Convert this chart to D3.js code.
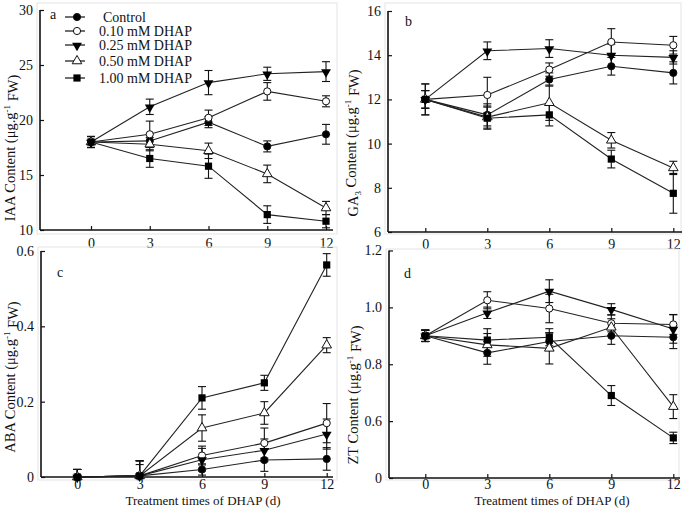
<!DOCTYPE html>
<html><head><meta charset="utf-8">
<script src="https://cdn.jsdelivr.net/npm/d3@7"></script>
<style>
body{margin:0;background:#fff;}
svg{display:block;font-family:"Liberation Serif","Times New Roman",serif;}
</style></head>
<body><svg id="chart" width="683" height="510"></svg>
<script>
const days = [0, 3, 6, 9, 12];
const seriesNames = ["Control", "0.10 mM DHAP", "0.25 mM DHAP", "0.50 mM DHAP", "1.00 mM DHAP"];
const markerTypes = ["circleFilled", "circleOpen", "triangleDownFilled", "triangleOpen", "squareFilled"];

// Panel a: IAA
const iaaValues = [
  [18.0, 18.1, 19.8, 17.6, 18.7],
  [18.0, 18.7, 20.2, 22.6, 21.7],
  [18.0, 21.2, 23.4, 24.2, 24.4],
  [18.0, 17.8, 17.2, 15.1, 12.0],
  [18.0, 16.5, 15.8, 11.4, 10.8]
];
const iaaErrors = [
  [0.5, 0.6, 0.5, 0.5, 0.9],
  [0.5, 1.2, 0.7, 0.8, 0.5],
  [0.5, 0.7, 1.1, 0.6, 0.9],
  [0.5, 0.6, 0.7, 0.8, 0.6],
  [0.5, 0.8, 1.1, 0.8, 0.6]
];
const iaaTicks = [10, 15, 20, 25, 30];

// Panel b: GA3
const gaValues = [
  [12.0, 11.3, 12.9, 13.5, 13.2],
  [12.0, 12.2, 13.35, 14.6, 14.45],
  [12.0, 14.2, 14.3, 14.0, 13.9],
  [12.0, 11.2, 11.85, 10.15, 8.9],
  [12.0, 11.15, 11.3, 9.3, 7.75]
];
const gaErrors = [
  [0.4, 0.5, 0.3, 0.4, 0.5],
  [0.7, 0.8, 0.3, 0.6, 0.4],
  [0.4, 0.4, 0.4, 0.5, 0.3],
  [0.4, 0.5, 0.8, 0.35, 0.3],
  [0.7, 0.5, 0.5, 0.4, 0.9]
];
const gaTicks = [6, 8, 10, 12, 14, 16];

// Panel c: ABA
const abaValues = [
  [0, 0.003, 0.02, 0.045, 0.048],
  [0, 0.003, 0.057, 0.09, 0.143],
  [0, 0.003, 0.046, 0.071, 0.114],
  [0, 0.003, 0.13, 0.17, 0.35],
  [0, 0.003, 0.21, 0.25, 0.563]
];
const abaErrors = [
  [0.02, 0.04, 0.015, 0.03, 0.03],
  [0.02, 0.04, 0.025, 0.04, 0.052],
  [0.02, 0.03, 0.03, 0.03, 0.04],
  [0.02, 0.04, 0.035, 0.03, 0.02],
  [0.02, 0.04, 0.03, 0.02, 0.03]
];
const abaTicks = [0, 0.2, 0.4, 0.6];
const abaTickLabels = ["0", "0.2", "0.4", "0.6"];

// Panel d: ZT (axis break: bottom tick "0" sits where 0.4 would be)
const ztValues = [
  [0.9, 0.84, 0.88, 0.9, 0.895],
  [0.9, 1.025, 0.996, 0.944, 0.94],
  [0.9, 0.981, 1.057, 0.993, 0.924],
  [0.9, 0.868, 0.856, 0.93, 0.651],
  [0.9, 0.885, 0.895, 0.69, 0.541]
];
const ztErrors = [
  [0.02, 0.04, 0.03, 0.03, 0.04],
  [0.02, 0.03, 0.05, 0.03, 0.035],
  [0.02, 0.02, 0.04, 0.02, 0.05],
  [0.02, 0.04, 0.055, 0.03, 0.042],
  [0.02, 0.04, 0.03, 0.035, 0.02]
];
const ztTicks = [0.4, 0.6, 0.8, 1.0, 1.2];
const ztTickLabels = ["0", "0.6", "0.8", "1.0", "1.2"];

const xTitle = "Treatment times of DHAP (d)";

const svg = d3.select("#chart");

const panels = [
  {letter:"a", values:iaaValues, errors:iaaErrors, yTicks:iaaTicks, yLabels:iaaTicks.map(String),
   yDomain:[10,30], yRange:[230,10], xAxisX:[40,333], x0:91, x12:326,
   box:[37,3,337,234], title:["IAA Content (μg.g","-1"," FW)"], titleX:10, titleY:148, letterPos:[50,19],
   xLabelY:248, showXTitle:false, legend:true},
  {letter:"b", values:gaValues, errors:gaErrors, yTicks:gaTicks, yLabels:gaTicks.map(String),
   yDomain:[6,16], yRange:[232,11], x0:425.3, x12:673.3, xAxisX:[388,682],
   box:[385,3,681,234], title:["GA","3"," Content (μg.g","-1"," FW)"], titleX:353, titleY:143, letterPos:[405,26],
   xLabelY:249, showXTitle:false, legend:false},
  {letter:"c", values:abaValues, errors:abaErrors, yTicks:abaTicks, yLabels:abaTickLabels,
   yDomain:[0,0.6], yRange:[477,251], x0:77.3, x12:326.7, xAxisX:[41,333],
   box:[38,247,337,480], title:["ABA Content (μg.g","-1"," FW)"], titleX:10, titleY:377, letterPos:[57,277],
   xLabelY:489, showXTitle:true, titleCenter:203, legend:false},
  {letter:"d", values:ztValues, errors:ztErrors, yTicks:ztTicks, yLabels:ztTickLabels,
   yDomain:[0.4,1.2], yRange:[478,250.5], x0:425.3, x12:673.3, xAxisX:[389,680],
   box:[386,249,679,480], title:["ZT Content (μg.g","-1"," FW)"], titleX:353, titleY:395, letterPos:[404,278],
   xLabelY:489, showXTitle:true, titleCenter:552, legend:false}
];

function drawMarker(g, type, x, y) {
  const s = 3.6;
  const stroke = "#111";
  if (type === "circleFilled" || type === "circleOpen") {
    g.append("circle").attr("cx", x).attr("cy", y).attr("r", s)
      .attr("fill", type === "circleFilled" ? "#000" : "#fff").attr("stroke", stroke).attr("stroke-width", 1);
  } else if (type === "squareFilled") {
    g.append("rect").attr("x", x - s).attr("y", y - s).attr("width", 2*s).attr("height", 2*s)
      .attr("fill", "#000");
  } else if (type === "triangleDownFilled") {
    const p = d3.symbol().type(d3.symbolTriangle).size(42)();
    g.append("path").attr("d", p).attr("transform", `translate(${x},${y + 0.5}) rotate(180)`)
      .attr("fill", "#000");
  } else if (type === "triangleOpen") {
    const p = d3.symbol().type(d3.symbolTriangle).size(40)();
    g.append("path").attr("d", p).attr("transform", `translate(${x},${y})`)
      .attr("fill", "#fff").attr("stroke", stroke).attr("stroke-width", 1);
  }
}

panels.forEach(P => {
  const g = svg.append("g");
  const x = d3.scaleLinear().domain([0, 12]).range([P.x0, P.x12]);
  const y = d3.scaleLinear().domain(P.yDomain).range(P.yRange);

  // faint frame
  g.append("rect").attr("x", P.box[0]).attr("y", P.box[1])
    .attr("width", P.box[2] - P.box[0]).attr("height", P.box[3] - P.box[1])
    .attr("fill", "none").attr("stroke", "#e4e4e4").attr("stroke-width", 1);

  // y axis
  const yAxisX = P.xAxisX[0];
  const yAxis = d3.axisLeft(y).tickValues(P.yTicks).tickSize(-4).tickPadding(7)
    .tickFormat((d, i) => P.yLabels[i]);
  const ya = g.append("g").attr("transform", `translate(${yAxisX},0)`).call(yAxis);
  ya.select(".domain").attr("d", `M0,${P.yRange[1]}V${P.yRange[0]}`).attr("stroke", "#111").attr("stroke-width", 1.6);
  ya.selectAll(".tick line").attr("stroke", "#111").attr("stroke-width", 1.2);
  ya.selectAll("text").attr("font-size", 14).attr("fill", "#111").attr("font-family", "Liberation Serif");

  // x axis
  const xAxis = d3.axisBottom(x).tickValues(days).tickSize(-4).tickPadding(6);
  const xa = g.append("g").attr("transform", `translate(0,${P.yRange[0]})`).call(xAxis);
  xa.select(".domain").attr("d", `M${P.xAxisX[0]},0H${P.xAxisX[1]}`).attr("stroke", "#111").attr("stroke-width", 1.6);
  xa.selectAll(".tick line").attr("stroke", "#111").attr("stroke-width", 1.2);
  xa.selectAll("text").attr("font-size", 14).attr("fill", "#111").attr("font-family", "Liberation Serif")
    .attr("y", null).attr("dy", null)
    .attr("transform", `translate(0,${P.xLabelY - P.yRange[0]})`);

  // y title
  const tt = g.append("text").attr("transform", `translate(${P.titleX},${P.titleY}) rotate(-90)`)
    .attr("text-anchor", "middle").attr("dy", "0.35em").attr("font-size", 14.5).attr("fill", "#111");
  P.title.forEach((part, i) => {
    const isSup = part === "-1";
    const isSub = part === "3";
    const ts = tt.append("tspan").text(part);
    if (isSup) ts.attr("font-size", 9).attr("dy", "-0.6em");
    else if (isSub) ts.attr("font-size", 9).attr("dy", "0.35em");
    else if (i > 0 && (P.title[i-1] === "-1")) ts.attr("dy", "0.6em");
    else if (i > 0 && (P.title[i-1] === "3")) ts.attr("dy", "-0.35em");
  });

  // panel letter
  g.append("text").attr("x", P.letterPos[0]).attr("y", P.letterPos[1]).text(P.letter)
    .attr("font-size", 14).attr("fill", "#111");

  if (P.showXTitle) {
    g.append("text").attr("x", P.titleCenter).attr("y", 505).attr("text-anchor", "middle")
      .attr("font-size", 13).attr("fill", "#111").text(xTitle);
  }

  // lines
  const line = d3.line().x((d, i) => x(days[i])).y(d => y(d));
  P.values.forEach(vals => {
    g.append("path").attr("d", line(vals)).attr("fill", "none").attr("stroke", "#222").attr("stroke-width", 1.1);
  });

  // error bars
  const yMin = P.yDomain[0];
  P.values.forEach((vals, si) => {
    vals.forEach((v, i) => {
      const e = P.errors[si][i];
      const cx = x(days[i]);
      const top = y(v + e);
      const botV = v - e;
      const bot = y(Math.max(botV, yMin));
      g.append("line").attr("x1", cx).attr("x2", cx).attr("y1", top).attr("y2", bot)
        .attr("stroke", "#111").attr("stroke-width", 1.1);
      g.append("line").attr("x1", cx - 4).attr("x2", cx + 4).attr("y1", top).attr("y2", top)
        .attr("stroke", "#111").attr("stroke-width", 1.1);
      if (botV >= yMin) {
        g.append("line").attr("x1", cx - 4).attr("x2", cx + 4).attr("y1", bot).attr("y2", bot)
          .attr("stroke", "#111").attr("stroke-width", 1.1);
      }
    });
  });

  // markers
  P.values.forEach((vals, si) => {
    vals.forEach((v, i) => drawMarker(g, markerTypes[si], x(days[i]), y(v)));
  });

  if (P.legend) {
    const ly = [17, 31, 45, 61, 78];
    seriesNames.forEach((name, i) => {
      const lg = svg.append("g");
      lg.append("line").attr("x1", 65).attr("x2", 85).attr("y1", ly[i]).attr("y2", ly[i])
        .attr("stroke", "#111").attr("stroke-width", 1.2);
      drawMarker(lg, markerTypes[i], 77, ly[i]);
      lg.append("text").attr("x", i === 0 ? 103 : 99).attr("y", ly[i]).attr("dy", "0.35em")
        .attr("font-size", 14).attr("fill", "#111").text(name);
    });
  }
});
</script>
</body></html>
